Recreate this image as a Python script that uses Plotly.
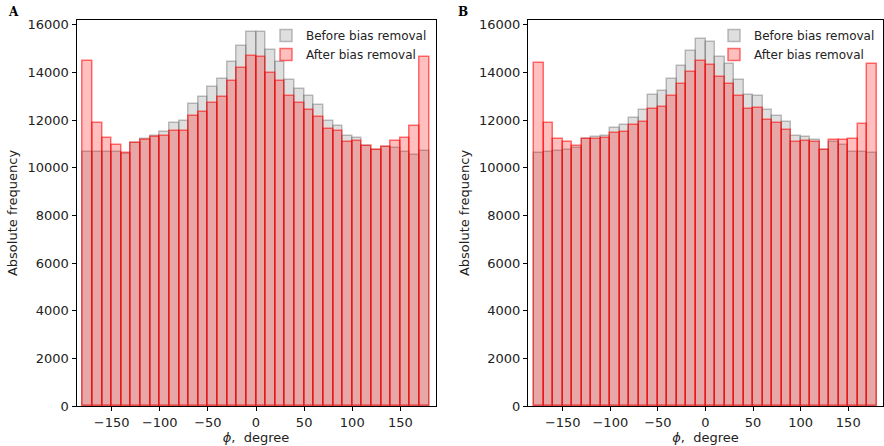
import plotly.graph_objects as go

bin_centers = list(range(-175, 180, 10))

before_A = [10650, 10650, 10680, 10680, 10560, 11050, 11190, 11340, 11480, 11870,
            11950, 12680, 12960, 13380, 13730, 14450, 15130, 15680, 15680, 14930,
            14420, 13670, 13320, 12990, 12650, 11970, 11770, 11340, 11260, 10930,
            10740, 10870, 10830, 10660, 10540, 10700]
after_A = [14480, 11860, 11250, 10970, 10620, 11040, 11180, 11290, 11320, 11560,
           11560, 12170, 12360, 12710, 12960, 13660, 14170, 14700, 14640, 13990,
           13630, 13020, 12700, 12410, 12140, 11640, 11530, 11060, 11110, 10930,
           10750, 10870, 11110, 11260, 11760, 14630]

before_B = [10620, 10680, 10710, 10760, 10830, 11190, 11290, 11340, 11660, 11780,
            12080, 12430, 13040, 13210, 13720, 14270, 14900, 15390, 15270, 14650,
            14350, 13700, 13070, 13000, 12430, 12180, 11900, 11340, 11300, 11150,
            10740, 11070, 10960, 10670, 10670, 10620]
after_B = [14390, 11880, 11210, 11090, 10900, 11220, 11210, 11250, 11470, 11500,
           11790, 11900, 12470, 12540, 12990, 13510, 14000, 14460, 14310, 13810,
           13530, 13010, 12470, 12490, 11990, 11860, 11580, 11070, 11140, 11090,
           10740, 11150, 11180, 11210, 11850, 14360]

labels = ["Before bias removal", "After bias removal"]
x_ticks = [-150, -100, -50, 0, 50, 100, 150]
x_tick_text = ["\u2212150", "\u2212100", "\u221250", "0", "50", "100", "150"]
y_ticks = [0, 2000, 4000, 6000, 8000, 10000, 12000, 14000, 16000]
y_tick_text = ["0", "2000", "4000", "6000", "8000", "10000", "12000", "14000", "16000"]

gray_fill = "rgba(128,128,128,0.25)"
gray_line = "rgba(110,110,110,0.45)"
red_fill = "rgba(255,0,0,0.25)"
red_line = "rgba(255,0,0,0.55)"

fig = go.Figure()

panels = [
    ("x", "y", "legend", before_A, after_A),
    ("x2", "y2", "legend2", before_B, after_B),
]
for xa, ya, lg, bef, aft in panels:
    fig.add_trace(go.Bar(x=bin_centers, y=bef, width=10, name=labels[0],
                         xaxis=xa, yaxis=ya, legend=lg,
                         marker=dict(color=gray_fill, line=dict(color=gray_line, width=1.5))))
    fig.add_trace(go.Bar(x=bin_centers, y=aft, width=10, name=labels[1],
                         xaxis=xa, yaxis=ya, legend=lg,
                         marker=dict(color=red_fill, line=dict(color=red_line, width=1.5))))

W, H = 884, 446
ybot = 1 - 406 / H
ytop = 1 - 20 / H
font = dict(family="DejaVu Sans", size=13, color="#222222")

common_x = dict(range=[-186.5, 186.5], tickmode="array", tickvals=x_ticks,
                ticktext=x_tick_text,
                ticks="outside", ticklen=4, tickcolor="black", showline=True,
                linecolor="black", linewidth=1, mirror=True, showgrid=False,
                zeroline=False, tickfont=font, automargin=False)
common_y = dict(range=[0, 16200], tickmode="array", tickvals=y_ticks,
                ticktext=y_tick_text,
                ticks="outside", ticklen=4, tickcolor="black", showline=True,
                linecolor="black", linewidth=1, mirror=True, showgrid=False,
                zeroline=False, tickfont=font, automargin=False)

legend_style = dict(font=dict(family="DejaVu Sans", size=12, color="#222222"),
                    bgcolor="rgba(255,255,255,0)", borderwidth=0,
                    xanchor="right", yanchor="top", tracegroupgap=0,
                    itemwidth=30)

fig.update_layout(
    width=W, height=H,
    margin=dict(l=0, r=0, t=0, b=0),
    paper_bgcolor="white", plot_bgcolor="white",
    barmode="overlay",
    bargap=0,
    showlegend=True,
    xaxis=dict(domain=[76.5 / W, 435.5 / W], anchor="y",
               title=dict(text="<i>ϕ</i>,  degree", font=font, standoff=4), **common_x),
    yaxis=dict(domain=[ybot, ytop], anchor="x",
               title=dict(text="Absolute frequency", font=font, standoff=6), **common_y),
    xaxis2=dict(domain=[528 / W, 883 / W], anchor="y2",
                title=dict(text="<i>ϕ</i>,  degree", font=font, standoff=4), **common_x),
    yaxis2=dict(domain=[ybot, ytop], anchor="x2",
                title=dict(text="Absolute frequency", font=font, standoff=6), **common_y),
    legend=dict(x=432 / W, y=1 - 21 / H, **legend_style),
    legend2=dict(x=880 / W, y=1 - 21 / H, **legend_style),
    annotations=[
        dict(text="<b>A</b>", x=13 / W, y=1 - 12 / H, xref="paper", yref="paper",
             xanchor="center", yanchor="middle", showarrow=False,
             font=dict(family="DejaVu Serif", size=12, color="black")),
        dict(text="<b>B</b>", x=463 / W, y=1 - 12 / H, xref="paper", yref="paper",
             xanchor="center", yanchor="middle", showarrow=False,
             font=dict(family="DejaVu Serif", size=12, color="black")),
    ],
)

fig.write_html("out.html")
